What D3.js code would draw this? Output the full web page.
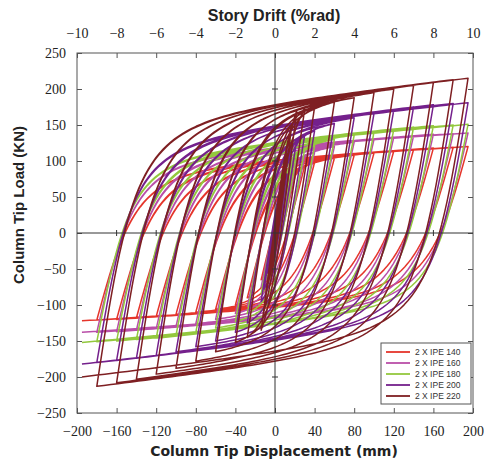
<!DOCTYPE html>
<html>
<head>
<meta charset="utf-8">
<script src="https://cdn.jsdelivr.net/npm/d3@7"></script>
<style>
  body { margin: 0; background: #fff; }
  svg { display: block; }
</style>
</head>
<body>
<svg id="chart" width="484" height="464"></svg>
<script>
// Cyclic loading protocol: peak tip displacement (mm) in push and pull, cycles per level
const pushAmplitudes = [6, 9, 12, 17, 22, 30, 40, 60, 80, 100, 120, 140, 160, 180, 195];
const pullAmplitudes = [-4, -6, -8, -11, -14, -28, -40, -60, -80, -100, -120, -140, -160, -180, -195];
const cycles         = [3, 3, 3, 3, 3, 2, 2, 2, 2, 2, 2, 2, 2, 2, 1];

const seriesNames  = ["2 X IPE 140", "2 X IPE 160", "2 X IPE 180", "2 X IPE 200", "2 X IPE 220"];
const seriesColors = ["#e5352b", "#b94ea8", "#93c83e", "#74208c", "#7e1f22"];

// Peak tip load (kN) at each displacement level, push (+) and pull (-)
const push140 = [28, 42, 55, 75, 88, 93, 98, 104, 108, 111, 114, 116, 118, 119, 120];
const pull140 = [-20, -30, -40, -55, -65, -90, -100, -106, -110, -113, -116, -118, -120, -121, -122];
const push160 = [32, 47, 62, 84, 98, 105, 112, 120, 126, 130, 133, 135, 137, 138, 139];
const pull160 = [-22, -33, -45, -60, -75, -102, -112, -120, -126, -130, -133, -135, -137, -138, -138];
const push180 = [36, 52, 70, 95, 110, 116, 121, 130, 136, 140, 144, 147, 149, 150, 151];
const pull180 = [-25, -37, -50, -68, -85, -112, -123, -132, -138, -142, -146, -148, -150, -151, -152];
const push200 = [42, 62, 82, 112, 130, 136, 142, 152, 160, 166, 171, 175, 178, 180, 181];
const pull200 = [-28, -42, -56, -78, -95, -125, -138, -150, -158, -165, -170, -174, -177, -180, -182];
const push220 = [55, 82, 110, 150, 170, 172, 175, 182, 188, 195, 200, 205, 209, 213, 215];
const pull220 = [-38, -56, -76, -108, -135, -145, -152, -165, -178, -188, -196, -203, -208, -213, -200];

// Elastic stiffness and post-yield (hardening) stiffness, kN/mm
const stiffness = [5, 6, 7, 8, 9];
const hardening = [0.08, 0.09, 0.12, 0.15, 0.16];
// Sharpness of the elastic-plastic knee in the largest cycles
const kneeSharpness = [1.8, 1.8, 1.8, 1.8, 1.8];

// Tick values
const dispTicks  = [-200, -160, -120, -80, -40, 0, 40, 80, 120, 160, 200];
const driftTicks = [-10, -8, -6, -4, -2, 0, 2, 4, 6, 8, 10];
const loadTicks  = [-250, -200, -150, -100, -50, 0, 50, 100, 150, 200, 250];

const pushPeaks = [push140, push160, push180, push200, push220];
const pullPeaks = [pull140, pull160, pull180, pull200, pull220];

const W = 484, H = 464;
const M = { left: 77, right: 11, top: 53, bottom: 51 };
const svg = d3.select("#chart");
svg.append("rect").attr("width", W).attr("height", H).attr("fill", "#fff");

const x = d3.scaleLinear().domain([-200, 200]).range([M.left, W - M.right]);
const xDrift = d3.scaleLinear().domain([-10, 10]).range([M.left, W - M.right]);
const y = d3.scaleLinear().domain([-250, 250]).range([H - M.bottom, M.top]);

// One branch of a loop between two reversal points (Menegotto-Pinto type curve)
function branch(p0, p1, K, h, R, n) {
  const [xr, yr] = p0, [xt, yt] = p1;
  const x0 = (yt - h * xt - yr + K * xr) / (K - h);
  const span = x0 - xr;
  if (!(span / (xt - xr) > 0)) return [p1];
  const b = h / K;
  const mp = e => b * e + (1 - b) * e / Math.pow(1 + Math.pow(e, R), 1 / R);
  const st = mp((xt - xr) / span);
  const pts = [];
  for (let i = 1; i <= n; i++) {
    const xx = xr + (xt - xr) * Math.pow(i / n, 1.6);
    pts.push([xx, yr + (yt - yr) * mp((xx - xr) / span) / st]);
  }
  return pts;
}

function loopPath(s) {
  const K = stiffness[s], h = hardening[s];
  let cur = [0, 0];
  const pts = [cur];
  cycles.forEach((n, i) => {
    const d = (pushAmplitudes[i] - pullAmplitudes[i]) / 2;
    // the knee rounds off as the cycles grow
    const R = kneeSharpness[s] + 3 * 20 / (20 + d);
    for (let c = 0; c < n; c++) {
      const a = [pushAmplitudes[i], pushPeaks[s][i]];
      pts.push(...branch(cur, a, K, h, R, 80));
      cur = a;
      const b = [pullAmplitudes[i], pullPeaks[s][i]];
      pts.push(...branch(cur, b, K, h, R, 80));
      cur = b;
    }
  });
  return pts;
}

const plot = svg.append("g");
plot.append("clipPath").attr("id", "clip")
  .append("rect").attr("x", M.left).attr("y", M.top)
  .attr("width", W - M.left - M.right).attr("height", H - M.top - M.bottom);

const line = d3.line().x(d => x(d[0])).y(d => y(d[1]));
const curves = plot.append("g").attr("clip-path", "url(#clip)");
seriesNames.forEach((name, s) => {
  curves.append("path")
    .attr("d", line(loopPath(s)))
    .attr("fill", "none")
    .attr("stroke", seriesColors[s])
    .attr("stroke-width", 1.5)
    .attr("stroke-linejoin", "round");
});

// Frame
svg.append("rect")
  .attr("x", M.left).attr("y", M.top)
  .attr("width", W - M.left - M.right).attr("height", H - M.top - M.bottom)
  .attr("fill", "none").attr("stroke", "#555").attr("stroke-width", 1);

const tickFont = "'Liberation Serif', 'Times New Roman', serif";
function styleAxis(g) {
  g.select(".domain").remove();
  g.selectAll(".tick line").attr("stroke", "#555");
  g.selectAll(".tick text").attr("font-family", tickFont).attr("font-size", 14).attr("fill", "#222");
}

svg.append("g").attr("transform", `translate(0,${H - M.bottom})`)
  .call(d3.axisBottom(x).tickValues(dispTicks).tickSizeInner(-5).tickSizeOuter(0).tickPadding(13).tickFormat(d3.format("d")))
  .call(styleAxis);
svg.append("g").attr("transform", `translate(0,${M.top})`)
  .call(d3.axisTop(xDrift).tickValues(driftTicks).tickSizeInner(-5).tickSizeOuter(0).tickPadding(15).tickFormat(d3.format("d")))
  .call(styleAxis);
svg.append("g").attr("transform", `translate(${M.left},0)`)
  .call(d3.axisLeft(y).tickValues(loadTicks).tickSizeInner(-5).tickSizeOuter(0).tickPadding(11).tickFormat(d3.format("d")))
  .call(styleAxis);
svg.append("g").attr("transform", `translate(${W - M.right},0)`)
  .call(d3.axisRight(y).tickValues(loadTicks).tickSizeInner(-5).tickSizeOuter(0).tickFormat(""))
  .call(styleAxis);

// Zero lines with cross ticks
svg.append("line").attr("x1", x(0)).attr("x2", x(0)).attr("y1", M.top).attr("y2", H - M.bottom)
  .attr("stroke", "#333").attr("stroke-width", 1);
svg.append("line").attr("x1", M.left).attr("x2", W - M.right).attr("y1", y(0)).attr("y2", y(0))
  .attr("stroke", "#333").attr("stroke-width", 1);
svg.append("g").selectAll("line").data(loadTicks.filter(v => Math.abs(v) < 250 && v !== 0)).join("line")
  .attr("x1", x(0) - 3).attr("x2", x(0) + 3).attr("y1", d => y(d)).attr("y2", d => y(d))
  .attr("stroke", "#333");
svg.append("g").selectAll("line").data(dispTicks.filter(v => Math.abs(v) < 200 && v !== 0)).join("line")
  .attr("y1", y(0) - 3).attr("y2", y(0) + 3).attr("x1", d => x(d)).attr("x2", d => x(d))
  .attr("stroke", "#333");

// Axis titles
const titleFont = "'Liberation Sans', Arial, sans-serif";
svg.append("text").attr("x", 274).attr("y", 21).attr("text-anchor", "middle")
  .attr("font-family", titleFont).attr("font-weight", "bold").attr("font-size", 16).attr("fill", "#222")
  .text("Story Drift (%rad)");
svg.append("text").attr("x", 274).attr("y", 456).attr("text-anchor", "middle")
  .attr("font-family", "'DejaVu Sans', Verdana, sans-serif").attr("font-weight", "bold").attr("font-size", 14).attr("fill", "#222")
  .text("Column Tip Displacement (mm)");
svg.append("text").attr("transform", "translate(24,205) rotate(-90)").attr("text-anchor", "middle")
  .attr("font-family", titleFont).attr("font-weight", "bold").attr("font-size", 15).attr("fill", "#222")
  .text("Column Tip Load (KN)");

// Legend
const lg = svg.append("g");
lg.append("rect").attr("x", 381).attr("y", 343).attr("width", 90).attr("height", 61)
  .attr("fill", "#fff").attr("stroke", "#555");
seriesNames.forEach((name, s) => {
  const yy = 352 + s * 11;
  lg.append("line").attr("x1", 386).attr("x2", 410).attr("y1", yy).attr("y2", yy)
    .attr("stroke", seriesColors[s]).attr("stroke-width", 1.8);
  lg.append("text").attr("x", 415).attr("y", yy).attr("dy", "0.35em")
    .attr("font-family", titleFont).attr("font-size", 8.5).attr("fill", "#333").text(name);
});
</script>
</body>
</html>
